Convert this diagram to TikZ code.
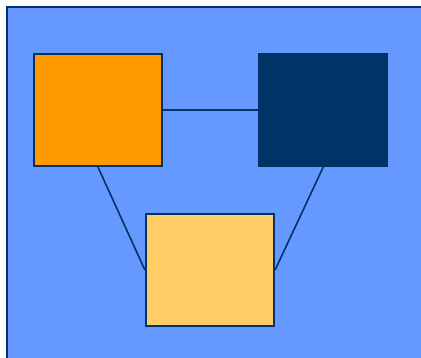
\documentclass[tikz,border=0pt]{standalone}
\usepackage{tikz}
\usetikzlibrary{positioning}
\definecolor{skyblue}{HTML}{6699FF}
\definecolor{navy}{HTML}{003366}
\definecolor{deeporange}{HTML}{FF9900}
\definecolor{paleorange}{HTML}{FFCC66}
\tikzstyle{block} = [rectangle, minimum width=128pt, minimum height=112pt, draw=navy, line width=2.2pt, inner sep=0pt]
\tikzstyle{link} = [draw=navy, line width=1.6pt]

\begin{document}
\begin{tikzpicture}[x=1pt, y=-1pt, node distance=95pt]
\useasboundingbox (0,0) rectangle (421,357);
\draw [fill=skyblue, draw=navy, line width=2.4pt] (7,7) rectangle (450,400);
\node (left) [block, fill=deeporange] at (98,110) {};
\node (right) [block, fill=navy, right=of left] {};
\node (bottom) [block, fill=paleorange] at (210,270) {};
\draw [link] (left) -- (right);
\draw [link] (left.south) -- (bottom.west);
\draw [link] (right.south) -- (bottom.east);
\end{tikzpicture}
\end{document}
